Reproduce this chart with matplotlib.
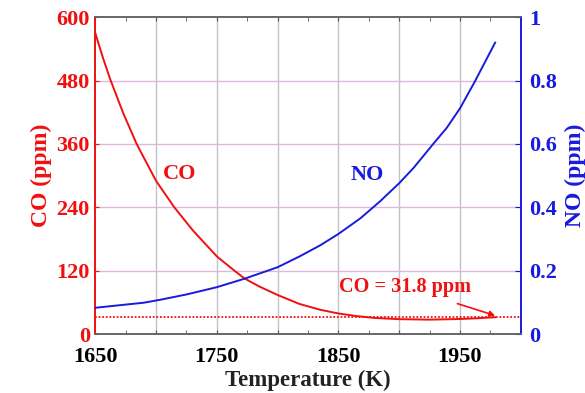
import matplotlib.pyplot as plt
import numpy as np

# CO and NO concentration vs temperature
T_co = [1650, 1656, 1662, 1673, 1684, 1700, 1715, 1730, 1750, 1765, 1773,
        1785, 1800, 1818, 1835, 1850, 1865, 1880, 1900, 1925, 1950, 1965, 1979]
co_ppm = [570, 525, 484, 418, 360, 290, 240, 197, 147, 119, 105,
          90, 74, 57, 46, 39, 34, 30.5, 28.2, 27.3, 28.5, 30, 31.8]

T_no = [1650, 1670, 1690, 1703, 1725, 1750, 1773, 1800, 1818, 1835, 1850,
        1868, 1884, 1900, 1912, 1928, 1939, 1950, 1962, 1979]
no_ppm = [0.083, 0.091, 0.099, 0.108, 0.125, 0.148, 0.175, 0.211, 0.245, 0.280, 0.316,
          0.365, 0.418, 0.476, 0.525, 0.600, 0.650, 0.712, 0.795, 0.920]

co_final = 31.8

xticks = [1650, 1700, 1750, 1800, 1850, 1900, 1950, 2000]
xlabels = ['1650', '', '1750', '', '1850', '', '1950', '']
co_ticks = [0, 120, 240, 360, 480, 600]
no_ticks = [0, 0.2, 0.4, 0.6, 0.8, 1]
no_labels = ['0', '0.2', '0.4', '0.6', '0.8', '1']

red = '#f01010'
blue = '#1a1adf'

plt.rcParams['font.family'] = ['Liberation Serif', 'DejaVu Serif']
plt.rcParams['font.weight'] = 'bold'

fig = plt.figure(figsize=(5.85, 3.93), dpi=100)
ax = fig.add_axes([0.163, 0.150, 0.727, 0.806])
ax2 = ax.twinx()

# grid
for x in xticks[1:-1]:
    ax.axvline(x, color='#c4c0c8', lw=1.0, zorder=0)
for y in co_ticks[1:-1]:
    ax.axhline(y, color='#dcb8dc', lw=1.0, zorder=0)

ax.plot(T_co, co_ppm, color=red, lw=1.4, zorder=3)
ax.axhline(co_final, color=red, lw=1.3, ls=(0, (1, 1)), zorder=3)
ax2.plot(T_no, no_ppm, color=blue, lw=1.4, zorder=3)

ax.set_xlim(1650, 2000)
ax.set_ylim(0, 600)
ax2.set_ylim(0, 1)

ax.set_xticks(xticks)
ax.set_xticklabels(xlabels)
ax.set_xticks(np.arange(1650, 2001, 25), minor=True)
ax.set_yticks(co_ticks)
ax2.set_yticks(no_ticks)
ax2.set_yticklabels(no_labels)

ax.tick_params(axis='x', which='both', direction='in', top=True, length=3,
               color='#555555', labelsize=16, pad=9)
ax.tick_params(axis='y', direction='in', length=3, colors=red, labelsize=16, pad=4)
ax2.tick_params(axis='y', direction='in', length=4, colors=blue, labelsize=16, pad=6)
for lab in ax.get_xticklabels() + ax.get_yticklabels() + ax2.get_yticklabels():
    lab.set_fontweight('bold')

ax.spines['left'].set_color(red)
ax2.spines['left'].set_color(red)
ax2.spines['right'].set_color(blue)
ax.spines['right'].set_color(blue)
for s in ['top', 'bottom']:
    ax.spines[s].set_color('#666666')
    ax2.spines[s].set_color('#666666')
for a in (ax, ax2):
    for s in a.spines.values():
        s.set_linewidth(1.2)

ax.set_xlabel('Temperature (K)', fontsize=16.5, fontweight='bold', color='#222222', labelpad=2)
ax.set_ylabel('CO (ppm)', fontsize=17, fontweight='bold', color=red, labelpad=3)
ax2.set_ylabel('NO (ppm)', fontsize=17, fontweight='bold', color=blue, labelpad=6)

ax.text(1719.5, 303, 'CO', color=red, fontsize=16, fontweight='bold',
        ha='center', va='center')
ax2.text(1874, 0.502, 'NO', color=blue, fontsize=16, fontweight='bold',
         ha='center', va='center')
ax.annotate('CO = 31.8 ppm', xy=(1979, 35), xytext=(1905, 89),
            color=red, fontsize=14.6, fontweight='bold', ha='center', va='center',
            arrowprops=dict(arrowstyle='-|>', color=red, lw=1.2,
                            mutation_scale=8, shrinkA=9, shrinkB=0))

fig.savefig('out.png', dpi=100)
